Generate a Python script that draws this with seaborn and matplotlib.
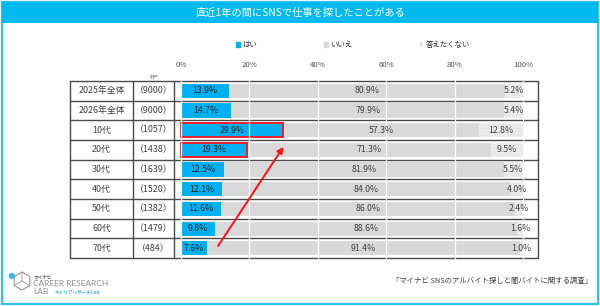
import numpy as np
import pandas as pd
import matplotlib.pyplot as plt
import matplotlib.patches as mpatches
import matplotlib.transforms as mtrans
import seaborn as sb

sb.set_style("white")
plt.rcParams['font.family'] = ['Noto Sans CJK JP', 'DejaVu Sans']

# data
groups = ['2025年全体', '2026年全体', '10代', '20代', '30代', '40代', '50代', '60代', '70代']
counts = [9000, 9000, 1057, 1438, 1639, 1520, 1382, 1479, 484]
yes = [13.9, 14.7, 29.9, 19.3, 12.5, 12.1, 11.6, 9.8, 7.6]
no = [80.9, 79.9, 57.3, 71.3, 81.9, 84.0, 86.0, 88.6, 91.4]
na = [5.2, 5.4, 12.8, 9.5, 5.5, 4.0, 2.4, 1.6, 1.0]
answers = ['はい', 'いいえ', '答えたくない']
ticks = [0, 20, 40, 60, 80, 100]
boxed = ['10代', '20代']

blue = '#00B0F0'
gray = '#D9D9D9'
light = '#E6E6E6'
txt = '#404040'

df = pd.DataFrame({'group': groups, 'n': counts, 'yes': yes, 'no': no, 'na': na})
df['c_no'] = df['yes'] + df['no']
df['c_na'] = df['c_no'] + df['na']

fig = plt.figure(figsize=(6, 3.06), dpi=100)

# background / decoration layer in pixel coords
bg = fig.add_axes([0, 0, 1, 1], zorder=0)
bg.set_xlim(0, 600)
bg.set_ylim(306, 0)
bg.axis('off')
bg.add_patch(mpatches.Rectangle((1.5, 1.5), 596, 302, fill=False, edgecolor='#2EC3F5', lw=1.6))
bg.add_patch(mpatches.Rectangle((1.5, 1.5), 596, 21.5, color='#00B9F0', lw=0))
bg.text(300, 12.5, '直近1年の間にSNSで仕事を探したことがある', color='white', fontsize=7.35,
        ha='center', va='center')

# logo
bg.add_patch(mpatches.RegularPolygon((22, 281), 6, radius=9, fill=False, edgecolor='#9A9A9A', lw=0.8))
bg.plot([22, 22, 14.2], [272, 281, 285.5], color='#9A9A9A', lw=0.6)
bg.plot([22, 29.8], [281, 285.5], color='#9A9A9A', lw=0.6)
bg.add_patch(mpatches.Circle((12, 276), 3.2, color='#3FB6E8', lw=0))
bg.text(34, 276.5, 'マイナビ', fontsize=3.3, color='#555555', va='center', fontweight='bold')
bg.text(33, 283, 'CAREER RESEARCH', fontsize=6, color='#8C8C8C', va='center', family=['Lato', 'DejaVu Sans'])
bg.text(33, 291.5, 'LAB', fontsize=6, color='#8C8C8C', va='center', family=['Lato', 'DejaVu Sans'])
bg.text(55, 291.5, 'キャリアリサーチLab', fontsize=3.3, color='#3FB6E8', va='center', fontweight='bold')

bg.text(592, 281, '「マイナビ SNSのアルバイト探しと闇バイトに関する調査」', fontsize=5.3, color=txt,
        ha='right', va='center')

# main bar chart
ax = fig.add_axes([174 / 600, 1 - 267 / 306, 364 / 600, 195 / 306], zorder=2)
ax.patch.set_alpha(0)

sb.barplot(data=df, x='c_na', y='group', order=groups, color=light, width=0.72, ax=ax, saturation=1)
sb.barplot(data=df, x='c_no', y='group', order=groups, color=gray, width=0.72, ax=ax, saturation=1)
sb.barplot(data=df, x='yes', y='group', order=groups, color=blue, width=0.72, ax=ax, saturation=1)

for p in ax.containers[0]:
    p.set_facecolor(light)
    p.set_hatch('.....')
    p.set_edgecolor('#F4F4F4')
    p.set_linewidth(0)
for p in ax.containers[1]:
    p.set_linewidth(0)
for g, p in zip(groups, ax.containers[2]):
    if g in boxed:
        p.set_edgecolor('#E8202A')
        p.set_linewidth(1.4)
    else:
        p.set_linewidth(0)

for i, r in df.iterrows():
    ax.text(r['yes'] / 2, i, f"{r['yes']:.1f}%", ha='center', va='center', fontsize=6.3, color='#222222')
    ax.text(r['yes'] + r['no'] / 2, i, f"{r['no']:.1f}%", ha='center', va='center', fontsize=6.3, color=txt)
    ax.text(r['c_no'] + r['na'] / 2, i, f"{r['na']:.1f}%", ha='center', va='center', fontsize=6.3, color=txt)

ax.set_xlim(-2.05, 104.4)
ax.set_xticks(ticks)
ax.set_xticklabels([f'{t}%' for t in ticks], fontsize=5.6, color='#555555')
ax.xaxis.tick_top()
ax.tick_params(axis='x', length=0, pad=2)
ax.set_yticks([])
ax.set_xlabel('')
ax.set_ylabel('')
ax.grid(axis='x', color='white', lw=0.9)
ax.set_axisbelow(False)
for s in ax.spines.values():
    s.set_visible(False)

# table part left of the bars
tr = mtrans.blended_transform_factory(ax.transAxes, ax.transData)
col_left, col_mid = -0.2857, -0.1126
for i, r in df.iterrows():
    ax.text((col_left + col_mid) / 2, i, r['group'], transform=tr, ha='center', va='center',
            fontsize=6.4, color=txt)
    ax.text(col_mid / 2, i, f"（{r['n']}）", transform=tr, ha='center', va='center',
            fontsize=6.4, color=txt)
for k in range(len(groups) + 1):
    ax.plot([col_left, 1], [k - 0.5, k - 0.5], transform=tr, color='#4A4A4A', lw=1.0, clip_on=False)
for xv in [col_left, col_mid, 0, 1]:
    ax.plot([xv, xv], [-0.5, len(groups) - 0.5], transform=tr, color='#4A4A4A', lw=1.0, clip_on=False)
ax.text(col_mid / 2, -0.5, 'n=', transform=tr, ha='center', va='bottom', fontsize=5.6, color='#555555')

# red arrow from 70代 up to the boxed young groups
ax.annotate('', xy=(30.4, 2.73), xytext=(10.4, 8.0),
            arrowprops=dict(arrowstyle='-|>', color='#FF1010', lw=1.4, mutation_scale=9))

# legend
handles = [mpatches.Patch(color=blue),
           mpatches.Patch(color=gray),
           mpatches.Patch(facecolor=light, hatch='.....', edgecolor='#F4F4F4', lw=0)]
fig.legend(handles, answers, loc='center', bbox_to_anchor=(353 / 600, 1 - 45 / 306), ncol=3, frameon=False,
           fontsize=5.3, handlelength=0.55, handleheight=0.55, handletextpad=0.3, columnspacing=9.1)

plt.savefig('out.png', dpi=100)
